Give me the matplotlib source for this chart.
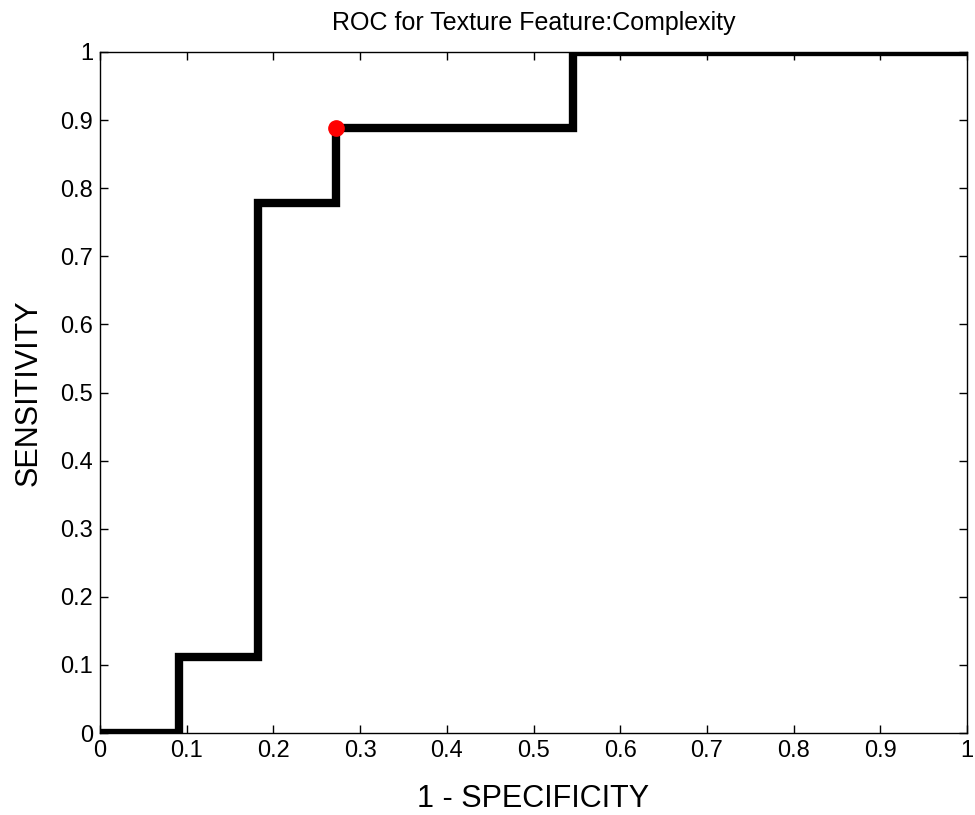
import numpy as np
import matplotlib
matplotlib.use("Agg")
import matplotlib.pyplot as plt

# ROC step points (1 - specificity, sensitivity)
fpr = [0, 1/11, 1/11, 2/11, 2/11, 3/11, 3/11, 6/11, 6/11, 1]
tpr = [0, 0, 1/9, 1/9, 7/9, 7/9, 8/9, 8/9, 1, 1]
best_fpr = [3/11]
best_tpr = [8/9]

ticks = np.round(np.arange(0, 1.01, 0.1), 1)
tick_labels = ["0"] + [f"{t:g}" for t in ticks[1:-1]] + ["1"]

plt.rcParams["font.family"] = ["Liberation Sans", "DejaVu Sans"]

fig = plt.figure(figsize=(9.75, 8.15), dpi=100)
ax = fig.add_axes([0.1026, 0.1006, 0.8892, 0.8356])

ax.plot(fpr, tpr, color="black", linewidth=6, solid_joinstyle="miter")
ax.plot(best_fpr, best_tpr, "o", color="red", markersize=11, zorder=5)

ax.set_xlim(0, 1)
ax.set_ylim(0, 1)
ax.set_xticks(ticks)
ax.set_yticks(ticks)
ax.set_xticklabels(tick_labels)
ax.set_yticklabels(tick_labels)
ax.tick_params(direction="in", top=True, right=True, length=6, width=1,
               labelsize=17, pad=5)
for s in ax.spines.values():
    s.set_linewidth(1)

ax.set_title("ROC for Texture Feature:Complexity", fontsize=18, pad=16)
ax.set_xlabel("1 - SPECIFICITY", fontsize=22, labelpad=16)
ax.set_ylabel("SENSITIVITY", fontsize=22, labelpad=12)

fig.savefig("out.png", dpi=100)
